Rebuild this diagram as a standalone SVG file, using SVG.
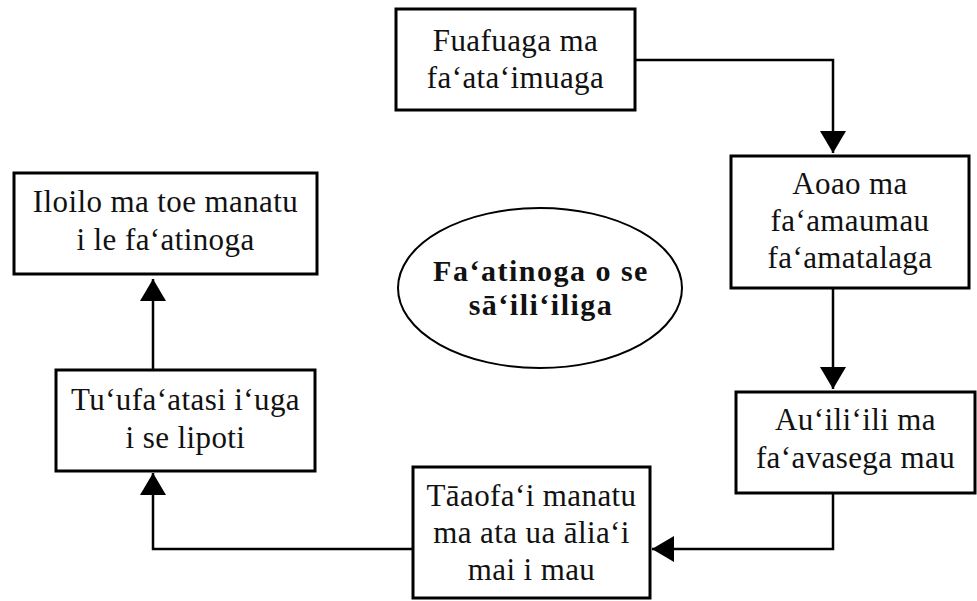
<svg xmlns="http://www.w3.org/2000/svg" width="977" height="601" viewBox="0 0 977 601">
<style>
.box{fill:#fff;stroke:#000;stroke-width:3}
.t{font-family:"Liberation Serif","Times New Roman",serif;font-size:31px;letter-spacing:0.4px;fill:#111;text-anchor:middle}
.b{font-family:"Liberation Serif","Times New Roman",serif;font-size:30px;font-weight:bold;letter-spacing:1.5px;fill:#111;text-anchor:middle}
.c{fill:none;stroke:#000;stroke-width:2.5}
</style>
<defs>
<marker id="ah" markerUnits="userSpaceOnUse" markerWidth="22" markerHeight="26" refX="22" refY="13" orient="auto">
<path d="M0,0 L22,13 L0,26 Z" fill="#000"/>
</marker>
</defs>
<rect width="977" height="601" fill="#fff"/>
<g id="connectors">
<path class="c" d="M635,60 H833 V153" marker-end="url(#ah)"/>
<path class="c" d="M833,288 V389" marker-end="url(#ah)"/>
<path class="c" d="M833,493 V549 H652" marker-end="url(#ah)"/>
<path class="c" d="M413,549 H153 V473" marker-end="url(#ah)"/>
<path class="c" d="M153,370 V279" marker-end="url(#ah)"/>
</g>
<g id="n1">
<rect class="box" x="396" y="9" width="239" height="101"/>
<text class="t" x="515.5" y="51">Fuafuaga ma</text>
<text class="t" x="515.5" y="88">fa‘ata‘imuaga</text>
</g>
<g id="n2">
<rect class="box" x="731" y="156" width="238" height="132"/>
<text class="t" x="850" y="194">Aoao ma</text>
<text class="t" x="850" y="231">fa‘amaumau</text>
<text class="t" x="850" y="268">fa‘amatalaga</text>
</g>
<g id="n3">
<rect class="box" x="736" y="392" width="239" height="101"/>
<text class="t" x="855.5" y="430">Au‘ili‘ili ma</text>
<text class="t" x="855.5" y="468">fa‘avasega mau</text>
</g>
<g id="n4">
<rect class="box" x="413" y="467" width="237" height="131"/>
<text class="t" x="531.5" y="506">Tāaofa‘i manatu</text>
<text class="t" x="531.5" y="543">ma ata ua ālia‘i</text>
<text class="t" x="531.5" y="580">mai i mau</text>
</g>
<g id="n5">
<rect class="box" x="56" y="370" width="259" height="101"/>
<text class="t" x="185.5" y="410">Tu‘ufa‘atasi i‘uga</text>
<text class="t" x="185.5" y="448">i se lipoti</text>
</g>
<g id="n6">
<rect class="box" x="14" y="173" width="303" height="101"/>
<text class="t" x="165.5" y="212">Iloilo ma toe manatu</text>
<text class="t" x="165.5" y="250">i le fa‘atinoga</text>
</g>
<g id="center">
<ellipse cx="540" cy="288" rx="142" ry="80" fill="#fff" stroke="#000" stroke-width="2"/>
<text class="b" x="541" y="281">Fa‘atinoga o se</text>
<text class="b" x="541" y="315">sā‘ili‘iliga</text>
</g>
</svg>
